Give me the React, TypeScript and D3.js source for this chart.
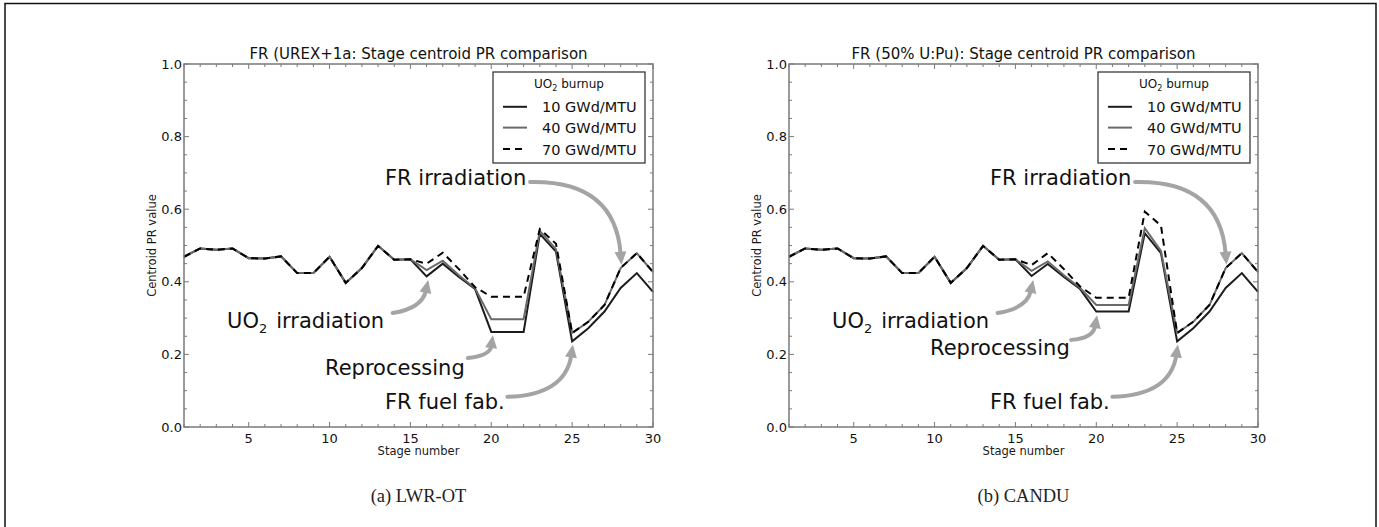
import * as d3 from "d3";
import React from "react";

// ── Data ─────────────────────────────────────────────────────────────────────
const STAGES = [1, 2, 3, 4, 5, 6, 7, 8, 9, 10, 11, 12, 13, 14, 15, 16, 17, 18, 19, 20, 21, 22, 23, 24, 25, 26, 27, 28, 29, 30];

const X_TICKS = [5, 10, 15, 20, 25, 30];
const Y_TICKS = [0, 0.2, 0.4, 0.6, 0.8, 1.0];

const BURNUP_LABELS = ["10 GWd/MTU", "40 GWd/MTU", "70 GWd/MTU"];

// (a) LWR-OT
const LWR_10 = [0.469, 0.492, 0.488, 0.492, 0.465, 0.464, 0.470, 0.424, 0.424, 0.469, 0.397, 0.438, 0.499, 0.461, 0.462, 0.415, 0.450, 0.413, 0.380, 0.262, 0.262, 0.262, 0.532, 0.483, 0.236, 0.272, 0.318, 0.383, 0.424, 0.372];
const LWR_40 = [0.469, 0.492, 0.488, 0.492, 0.465, 0.464, 0.470, 0.424, 0.424, 0.469, 0.397, 0.438, 0.499, 0.461, 0.462, 0.432, 0.458, 0.418, 0.382, 0.297, 0.297, 0.297, 0.540, 0.490, 0.259, 0.290, 0.336, 0.438, 0.479, 0.427];
const LWR_70 = [0.469, 0.492, 0.488, 0.492, 0.465, 0.464, 0.470, 0.424, 0.424, 0.469, 0.397, 0.438, 0.499, 0.461, 0.462, 0.450, 0.480, 0.435, 0.385, 0.359, 0.359, 0.359, 0.545, 0.505, 0.259, 0.290, 0.336, 0.438, 0.479, 0.427];

// (b) CANDU
const CANDU_10 = [0.469, 0.492, 0.488, 0.492, 0.465, 0.464, 0.470, 0.424, 0.424, 0.469, 0.397, 0.438, 0.499, 0.461, 0.462, 0.416, 0.449, 0.413, 0.380, 0.318, 0.318, 0.318, 0.534, 0.479, 0.236, 0.272, 0.318, 0.383, 0.424, 0.372];
const CANDU_40 = [0.469, 0.492, 0.488, 0.492, 0.465, 0.464, 0.470, 0.424, 0.424, 0.469, 0.397, 0.438, 0.499, 0.461, 0.462, 0.430, 0.456, 0.418, 0.383, 0.336, 0.336, 0.336, 0.548, 0.485, 0.259, 0.290, 0.336, 0.438, 0.479, 0.427];
const CANDU_70 = [0.469, 0.492, 0.488, 0.492, 0.465, 0.464, 0.470, 0.424, 0.424, 0.469, 0.397, 0.438, 0.499, 0.461, 0.462, 0.446, 0.479, 0.435, 0.387, 0.356, 0.356, 0.356, 0.593, 0.555, 0.259, 0.290, 0.336, 0.438, 0.479, 0.427];

// annotation text / arrow anchors, in data coordinates
interface Note {
  label: string;
  sub?: string;
  rest?: string;
  tx: number; ty: number;   // text start + baseline
  sx: number; sy: number;   // arrow start
  cx: number; cy: number;   // curve control
  px: number; py: number;   // arrow tip
}

const NOTES_LWR: Note[] = [
  { label: "FR irradiation", tx: 13.43, ty: 0.667, sx: 22.4, sy: 0.675, cx: 27.65, cy: 0.68, px: 28.05, py: 0.447 },
  { label: "UO", sub: "2", rest: "irradiation", tx: 3.66, ty: 0.273, sx: 13.9, sy: 0.314, cx: 15.72, cy: 0.327, px: 16.1, py: 0.405 },
  { label: "Reprocessing", tx: 9.72, ty: 0.143, sx: 18.55, sy: 0.19, cx: 19.92, cy: 0.196, px: 20.1, py: 0.253 },
  { label: "FR fuel fab.", tx: 13.43, ty: 0.05, sx: 21.0, sy: 0.083, cx: 24.56, cy: 0.088, px: 25.05, py: 0.227 },
];

const NOTES_CANDU: Note[] = [
  { label: "FR irradiation", tx: 13.43, ty: 0.667, sx: 22.4, sy: 0.675, cx: 27.65, cy: 0.68, px: 28.05, py: 0.447 },
  { label: "UO", sub: "2", rest: "irradiation", tx: 3.66, ty: 0.273, sx: 13.9, sy: 0.314, cx: 15.72, cy: 0.327, px: 16.1, py: 0.405 },
  { label: "Reprocessing", tx: 9.72, ty: 0.198, sx: 18.45, sy: 0.24, cx: 19.8, cy: 0.245, px: 20.05, py: 0.308 },
  { label: "FR fuel fab.", tx: 13.43, ty: 0.05, sx: 21.0, sy: 0.083, cx: 24.56, cy: 0.088, px: 25.05, py: 0.227 },
];

// ── Layout ───────────────────────────────────────────────────────────────────
const W = 1379;
const H = 527;
const PLOT_TOP = 64;
const PLOT_BOTTOM = 427;
const PLOT_W = 469;
const FONT = "DejaVu Sans, sans-serif";
const SPINE = "#7a7a7a";
const ARROW = "#a4a4a4";

const STYLES = [
  { color: "#1c1c1c", dash: undefined as string | undefined },
  { color: "#6a6a6a", dash: undefined as string | undefined },
  { color: "#000000", dash: "7,5" },
];

function Arrow({ n, x, y }: { n: Note; x: d3.ScaleLinear<number, number>; y: d3.ScaleLinear<number, number> }) {
  const p0 = [x(n.sx), y(n.sy)];
  const c = [x(n.cx), y(n.cy)];
  const tip = [x(n.px), y(n.py)];
  const dx = tip[0] - c[0];
  const dy = tip[1] - c[1];
  const len = Math.hypot(dx, dy);
  const ux = dx / len, uy = dy / len;
  const headL = 13, headW = 6;
  const base = [tip[0] - ux * headL, tip[1] - uy * headL];
  const path = d3.path();
  path.moveTo(p0[0], p0[1]);
  path.quadraticCurveTo(c[0], c[1], base[0] + ux * 2, base[1] + uy * 2);
  const head = [
    [tip[0], tip[1]],
    [base[0] - uy * headW, base[1] + ux * headW],
    [base[0] + uy * headW, base[1] - ux * headW],
  ];
  return (
    <g>
      <path d={path.toString()} fill="none" stroke={ARROW} strokeWidth={4} strokeLinecap="round" />
      <polygon points={head.map((p) => p.join(",")).join(" ")} fill={ARROW} />
    </g>
  );
}

function Panel({
  x0, title, caption, series, notes,
}: {
  x0: number; title: string; caption: string; series: number[][]; notes: Note[];
}) {
  const x = d3.scaleLinear().domain([1, 30]).range([x0, x0 + PLOT_W]);
  const y = d3.scaleLinear().domain([0, 1]).range([PLOT_BOTTOM, PLOT_TOP]);
  const line = d3.line<number>().x((_, i) => x(STAGES[i])).y((d) => y(d));

  const xMinor = d3.range(1, 31);
  const yMinor = d3.range(0, 21).map((k) => k * 0.05);
  const right = x0 + PLOT_W;

  const lx = x0 + 309, ly = 72, lw = 152, lh = 91;

  return (
    <g>
      {/* title */}
      <text x={(x0 + right) / 2} y={59} textAnchor="middle" fontFamily={FONT} fontSize={15} fill="#111">{title}</text>

      {/* series */}
      {series.map((s, i) => (
        <path key={i} d={line(s) ?? ""} fill="none" stroke={STYLES[i].color} strokeWidth={2}
          strokeDasharray={STYLES[i].dash} strokeLinejoin="miter" />
      ))}

      {/* ticks, inside on all four sides */}
      {xMinor.map((t) => {
        const major = X_TICKS.includes(t);
        const L = major ? 5 : 3;
        return (
          <g key={"xt" + t} stroke={SPINE} strokeWidth={1}>
            <line x1={x(t)} x2={x(t)} y1={PLOT_BOTTOM} y2={PLOT_BOTTOM - L} />
            <line x1={x(t)} x2={x(t)} y1={PLOT_TOP} y2={PLOT_TOP + L} />
          </g>
        );
      })}
      {yMinor.map((t, k) => {
        const major = k % 4 === 0;
        const L = major ? 5 : 3;
        return (
          <g key={"yt" + k} stroke={SPINE} strokeWidth={1}>
            <line x1={x0} x2={x0 + L} y1={y(t)} y2={y(t)} />
            <line x1={right} x2={right - L} y1={y(t)} y2={y(t)} />
          </g>
        );
      })}

      {/* spines */}
      <rect x={x0} y={PLOT_TOP} width={PLOT_W} height={PLOT_BOTTOM - PLOT_TOP} fill="none" stroke={SPINE} strokeWidth={1.5} />

      {/* tick labels */}
      {X_TICKS.map((t) => (
        <text key={"xl" + t} x={x(t)} y={443} textAnchor="middle" fontFamily={FONT} fontSize={13} fill="#111">{t}</text>
      ))}
      {Y_TICKS.map((t) => (
        <text key={"yl" + t} x={x0 - 2} y={y(t) + 4.5} textAnchor="end" fontFamily={FONT} fontSize={13} fill="#111">{t.toFixed(1)}</text>
      ))}

      {/* axis labels */}
      <text x={(x0 + right) / 2} y={455} textAnchor="middle" fontFamily={FONT} fontSize={11.5} fill="#1a1a1a">Stage number</text>
      <text transform={`translate(${x0 - 28},${(PLOT_TOP + PLOT_BOTTOM) / 2}) rotate(-90)`} textAnchor="middle"
        fontFamily={FONT} fontSize={11.5} fill="#1a1a1a">Centroid PR value</text>

      {/* legend */}
      <rect x={lx} y={ly} width={lw} height={lh} fill="#fff" stroke="#3a3a3a" strokeWidth={1.3} />
      <text x={lx + lw / 2} y={87.5} textAnchor="middle" fontFamily={FONT} fontSize={12} fill="#111">
        UO<tspan fontSize={8} dy={3}>2</tspan><tspan dy={-3}> burnup</tspan>
      </text>
      {BURNUP_LABELS.map((lab, i) => {
        const cy = [106.8, 127.6, 149][i];
        return (
          <g key={lab}>
            <line x1={lx + 10} x2={lx + 34} y1={cy} y2={cy} stroke={STYLES[i].color} strokeWidth={2}
              strokeDasharray={STYLES[i].dash} />
            <text x={lx + 49} y={cy + 5.5} fontFamily={FONT} fontSize={14.5} fill="#111">{lab}</text>
          </g>
        );
      })}

      {/* annotations */}
      {notes.map((n, i) => (
        <g key={"n" + i}>
          <Arrow n={n} x={x} y={y} />
          <text x={x(n.tx)} y={y(n.ty)} fontFamily={FONT} fontSize={21} fill="#111">
            {n.label}
            {n.sub && <tspan fontSize={13} dy={5}>{n.sub}</tspan>}
            {n.rest && <tspan dy={-5} dx={9}>{n.rest}</tspan>}
          </text>
        </g>
      ))}

      {/* caption */}
      <text x={(x0 + right) / 2} y={502} textAnchor="middle" fontFamily="Liberation Serif, serif" fontSize={18.5} fill="#222">{caption}</text>
    </g>
  );
}

export default function App() {
  return (
    <svg width={W} height={H} viewBox={`0 0 ${W} ${H}`}
      style={{ position: "absolute", left: 0, top: 0, background: "#fff", display: "block" }}>
      <rect x={0} y={0} width={W} height={H} fill="#fff" />
      <rect x={5} y={3.5} width={1371} height={H + 20} fill="none" stroke="#111" strokeWidth={1.5} />
      <Panel x0={184} title="FR (UREX+1a: Stage centroid PR comparison" caption="(a) LWR-OT"
        series={[LWR_10, LWR_40, LWR_70]} notes={NOTES_LWR} />
      <Panel x0={789} title="FR (50% U:Pu): Stage centroid PR comparison" caption="(b) CANDU"
        series={[CANDU_10, CANDU_40, CANDU_70]} notes={NOTES_CANDU} />
    </svg>
  );
}
